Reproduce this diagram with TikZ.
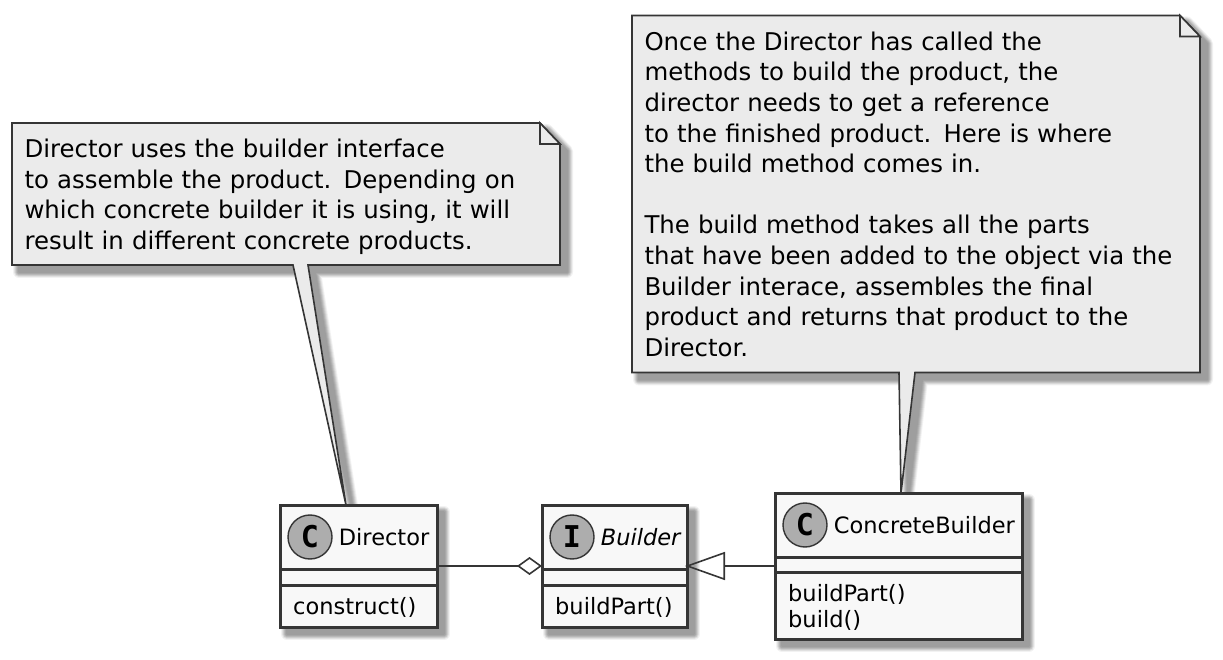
\documentclass[tikz,border=0pt]{standalone}
\usepackage{fontspec}
\usetikzlibrary{arrows.meta,backgrounds,positioning}
\setmainfont{DejaVu Sans}
\newfontfamily\spotfont{DejaVu Sans Mono}

\definecolor{umlline}{HTML}{353535}
\definecolor{classfill}{HTML}{F8F8F8}
\definecolor{notefill}{HTML}{EBEBEB}
\definecolor{spotfill}{HTML}{ADADAD}

% soft shadow: the same path several times, from wide and pale to narrow and dark
\newcommand{\softshadow}[1]{%
  \foreach \w/\g in {12/95,10/88,8/80,6/72,4/66,2/62}{\path[shadowlayer, line width=\w pt, draw=white!\g!black, fill=white!\g!black] #1;}}
\newcommand{\classoutline}[1]{(#1.south west) rectangle (#1.north east)}
% #1 note, #2 #3 tail base from the left edge, #4 tail tip
\newcommand{\noteoutline}[4]{(#1.north west) -- ([xshift=-20pt]#1.north east)
  -- ([yshift=-21pt]#1.north east) -- (#1.south east)
  -- ([xshift=#3]#1.south west) -- (#4) -- ([xshift=#2]#1.south west)
  -- (#1.south west) -- cycle}

\begin{document}
\begin{tikzpicture}[
    x=1pt, y=1pt,
    node distance=256pt,
    class/.style={draw=umlline, fill=classfill, line width=3pt, rectangle, outer sep=0pt, inner sep=0pt, minimum height=122pt},
    spot/.style={draw=umlline, fill=spotfill, line width=1.4pt, circle, minimum size=44pt, inner sep=0pt, font=\spotfont\fontsize{30}{30}\selectfont\bfseries},
    classtext/.style={inner sep=0pt, font=\fontsize{22.5}{26}\selectfont},
    notebox/.style={rectangle, outer sep=0pt, inner xsep=12.5pt, inner ysep=0pt, align=left, font=\fontsize{24.4}{30.6}\selectfont},
    noteline/.style={draw=umlline, fill=notefill, line width=1.6pt, line join=miter},
    compartment/.style={draw=umlline, line width=3pt},
    shadowlayer/.style={transform canvas={xshift=7pt, yshift=-7pt}, line join=round},
    aggregation/.style={draw=umlline, line width=1.6pt, -{Diamond[open, length=25pt, width=18pt]}},
    extension/.style={draw=umlline, line width=1.6pt, shorten >=-2pt, -{Triangle[open, length=40pt, width=28pt]}}
]
    \useasboundingbox (0,0) rectangle (1223,659);

    % Place classes
    \node[class, minimum width=157pt] (director) at (358.5,93) {};
    \node[class, minimum width=145pt, right of=director] (builder) {};
    \node[class, minimum width=247pt, minimum height=146pt, right of=builder, xshift=28pt] (concrete) {};

    % Place notes
    \node[notebox, text width=523pt, minimum height=142pt, above of=director, xshift=-72.5pt, yshift=116pt] (directornote) {%
        \rule{0pt}{24pt}Director uses the builder interface\\
        to assemble the product. Depending on\\
        which concrete builder it is using, it will\\
        result in different concrete products.};
    \node[notebox, text width=543pt, minimum height=357pt, above of=concrete, xshift=17.5pt, yshift=116pt] (buildnote) {%
        \rule{0pt}{19pt}Once the Director has called the\\
        methods to build the product, the\\
        director needs to get a reference\\
        to the finished product. Here is where\\
        the build method comes in.\\[30.6pt]
        The build method takes all the parts\\
        that have been added to the object via the\\
        Builder interace, assembles the final\\
        product and returns that product to the\\
        Director.};

    % Tail tips on the classes
    \coordinate (directortip) at ([xshift=-12.5pt]director.north);
    \coordinate (buildtip) at ([xshift=2.5pt]concrete.north);

    % Class contents
    \node[spot] (directorspot) at ([xshift=30pt, yshift=-32pt]director.north west) {C};
    \node[classtext, right=6pt of directorspot] (directorname) {Director};
    \node[spot] (builderspot) at ([xshift=30pt, yshift=-32pt]builder.north west) {I};
    \node[classtext, right=6pt of builderspot] (buildername) {\itshape Builder};
    \node[spot] (concretespot) at ([xshift=30pt, yshift=-32pt]concrete.north west) {C};
    \node[classtext, right=6pt of concretespot] (concretename) {ConcreteBuilder};
    \node[classtext, anchor=base west] (construct) at ([xshift=13pt, yshift=13pt]director.south west) {construct()};
    \node[classtext, anchor=base west] (builderpart) at ([xshift=13pt, yshift=13pt]builder.south west) {buildPart()};
    \node[classtext, anchor=base west] (concretepart) at ([xshift=13pt, yshift=38pt]concrete.south west) {buildPart()};
    \node[classtext, anchor=base west] (concretebuild) at ([xshift=13pt, yshift=12pt]concrete.south west) {build()};

    % Compartment lines
    \draw[compartment] ([yshift=-64pt]director.north west) -- ([yshift=-64pt]director.north east);
    \draw[compartment] ([yshift=-80pt]director.north west) -- ([yshift=-80pt]director.north east);
    \draw[compartment] ([yshift=-64pt]builder.north west) -- ([yshift=-64pt]builder.north east);
    \draw[compartment] ([yshift=-80pt]builder.north west) -- ([yshift=-80pt]builder.north east);
    \draw[compartment] ([yshift=-64pt]concrete.north west) -- ([yshift=-64pt]concrete.north east);
    \draw[compartment] ([yshift=-79pt]concrete.north west) -- ([yshift=-79pt]concrete.north east);

    % Add connections
    \draw[aggregation] (director) -- (builder);
    \draw[extension] (concrete) -- (builder);

    % Shadows and note outlines go behind everything
    \begin{scope}[on background layer]
        \softshadow{\classoutline{director}}
        \softshadow{\classoutline{builder}}
        \softshadow{\classoutline{concrete}}
        \softshadow{\noteoutline{directornote}{281pt}{296pt}{directortip}}
        \softshadow{\noteoutline{buildnote}{267pt}{283pt}{buildtip}}
        \draw[noteline] \noteoutline{directornote}{281pt}{296pt}{directortip};
        \draw[noteline] \noteoutline{buildnote}{267pt}{283pt}{buildtip};
        \draw[noteline] ([xshift=-20pt]directornote.north east) |- ([yshift=-21pt]directornote.north east) -- cycle;
        \draw[noteline] ([xshift=-20pt]buildnote.north east) |- ([yshift=-21pt]buildnote.north east) -- cycle;
    \end{scope}
\end{tikzpicture}
\end{document}
